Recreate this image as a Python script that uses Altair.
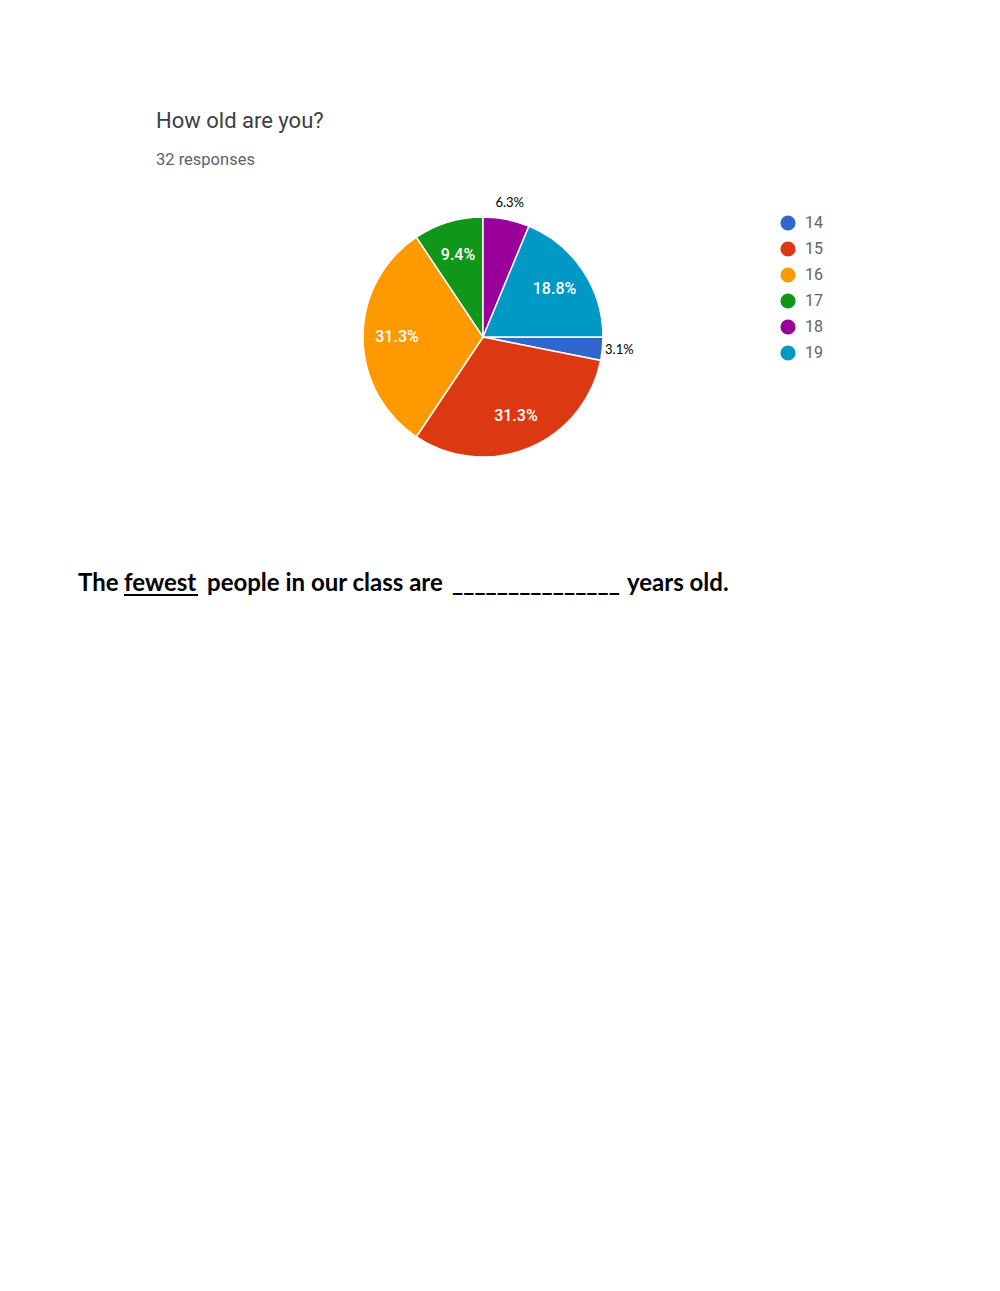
import altair as alt
import pandas as pd

ages = ["14", "15", "16", "17", "18", "19"]
counts = [1, 10, 10, 3, 2, 6]
inside_labels = ["", "31.3%", "31.3%", "9.4%", "", "18.8%"]
outside_labels = ["3.1%", "", "", "", "6.3%", ""]
colors = ["#3366cc", "#dc3912", "#ff9900", "#109618", "#990099", "#0099c6"]

df = pd.DataFrame({
    "age": ages,
    "count": counts,
    "idx": list(range(len(ages))),
    "inside": inside_labels,
    "outside": outside_labels,
})

PI = 3.141592653589793
theta_scale = alt.Scale(range=[PI / 2, PI / 2 + 2 * PI])
cx, cy = 475, 329

base = alt.Chart(df).encode(
    theta=alt.Theta("count:Q", stack=True, scale=theta_scale),
    order=alt.Order("idx:Q"),
)

pie = base.mark_arc(outerRadius=120, stroke="white", strokeWidth=1.5).encode(
    x=alt.value(cx), y=alt.value(cy),
    color=alt.Color(
        "age:N",
        scale=alt.Scale(domain=ages, range=colors),
        legend=alt.Legend(
            title=None, orient="none", legendX=772, legendY=207,
            symbolType="circle", symbolSize=230, symbolStrokeWidth=0,
            labelFont="Roboto", labelFontSize=16, labelColor="#5f6368",
            labelOffset=9, rowPadding=10, padding=0,
        ),
    ),
)

inner = base.mark_text(radius=86, font="Roboto", fontSize=16, fontWeight=500,
                       color="white").encode(
    x=alt.value(cx), y=alt.value(cy), text="inside:N")

outer = base.mark_text(radius=137, font="Lato", fontSize=13, color="black").encode(
    x=alt.value(cx), y=alt.value(cy), text="outside:N")

def note(txt, x, y, size, color, weight="normal", font="Roboto"):
    return alt.Chart(df.head(1)).mark_text(
        align="left", baseline="alphabetic", font=font, fontSize=size,
        fontWeight=weight, color=color,
    ).encode(x=alt.value(x), y=alt.value(y), text=alt.value(txt))

title = note("How old are you?", 148, 120, 22, "#3c4043")
subtitle = note("32 responses", 148, 157, 16.5, "#5f6368")

q_font = "Lato"
q1 = note("The", 70, 583, 24, "black", "bold", q_font)
q2 = note("fewest", 116, 583, 24, "black", "bold", q_font)
q3 = note("people in our class are", 199, 583, 24, "black", "bold", q_font)
q4 = note("_______________", 444, 583, 24, "black", "bold", q_font)
q5 = note("years old.", 619, 583, 24, "black", "bold", q_font)
underline = alt.Chart(df.head(1)).mark_rule(color="black", strokeWidth=2).encode(
    x=alt.value(116), x2=alt.value(190), y=alt.value(587))

chart = alt.layer(
    pie, inner, outer, title, subtitle, q1, q2, q3, q4, q5, underline
).properties(
    width=984, height=1270, padding=0, autosize="none", background="white"
).configure_view(stroke=None)

chart.save("out.html", embed_options={"renderer": "svg", "actions": False})
